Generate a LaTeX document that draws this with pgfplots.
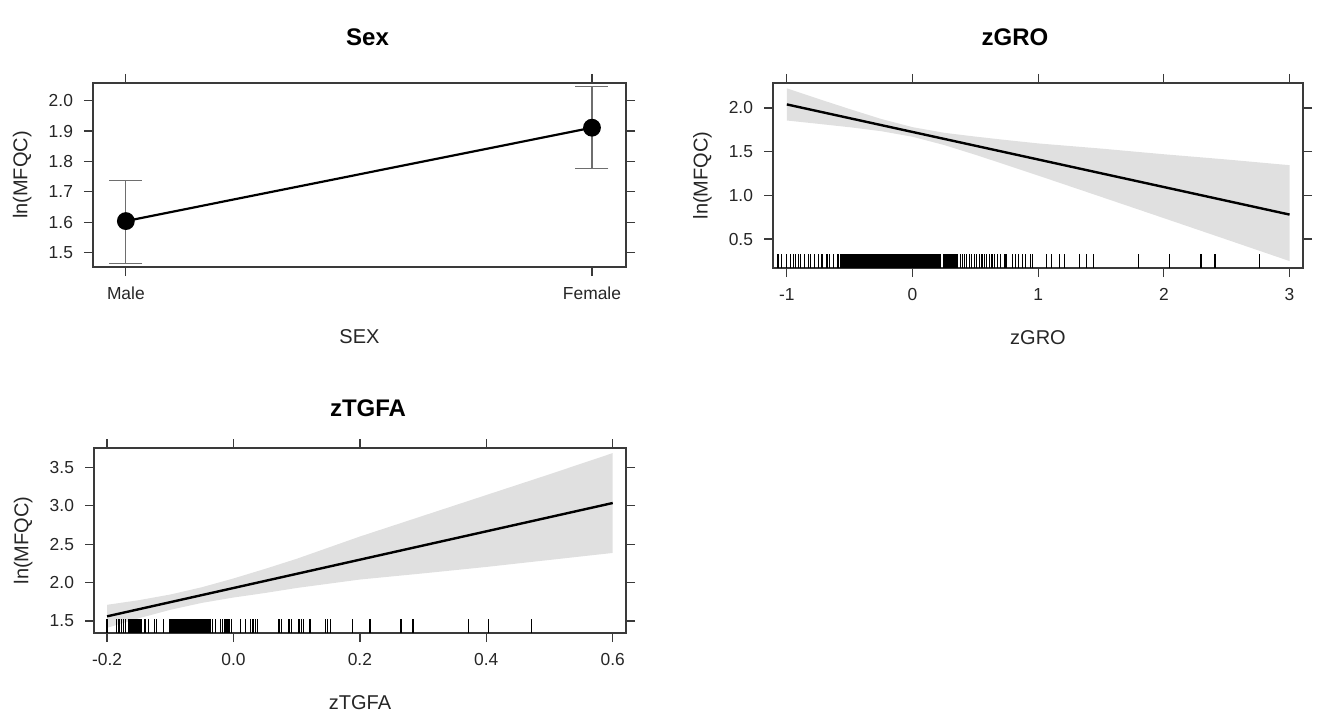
\documentclass[border=0pt]{standalone}
\usepackage{fontspec}
\setmainfont{Liberation Sans}
\usepackage{pgfplots}
\pgfplotsset{compat=1.18}

\definecolor{band}{HTML}{E0E0E0}
\definecolor{frame}{HTML}{3A3A3A}
\definecolor{ebar}{HTML}{6E6E6E}

% lattice-like panel style (1px of the reference = 0.5pt)
\pgfplotsset{
  rpanel/.style={
    scale only axis,
    clip=false,
    axis line style={line width=0.6pt, frame},
    tick align=outside, tick pos=both,
    major tick length=4.5pt,
    every tick/.style={line width=0.6pt, frame},
    ticklabel style={font=\fontsize{8.7}{10}\selectfont, text=black!85},
    xticklabel style={yshift=-2pt},
    yticklabel style={xshift=-2pt},
    label style={font=\fontsize{10}{12}\selectfont, text=black!85},
    title style={font=\bfseries\fontsize{12}{14}\selectfont,
      at={(axis description cs:0.5,1)}, anchor=center, xshift=4pt, yshift=14pt},
    xlabel style={at={(axis description cs:0.5,0)}, anchor=center, yshift=-35pt},
    ylabel style={at={(axis description cs:-0.133,0.5)}, anchor=center},
  },
  rug/.style={only marks, mark=|, mark size=3.5pt, mark options={line width=0.6pt, black}},
}

\begin{document}
\begin{tikzpicture}
\useasboundingbox (0,0) rectangle (660.5pt,356.5pt);

% ---------------- Sex ----------------
\begin{axis}[rpanel,
  at={(46.5pt,315pt)}, anchor=north west,
  width=266.5pt, height=92pt,
  xmin=-0.0705, xmax=1.073, ymin=1.453, ymax=2.058,
  xtick={0,1}, xticklabels={Male,Female},
  ytick={1.5,1.6,1.7,1.8,1.9,2.0},
  yticklabels={1.5,1.6,1.7,1.8,1.9,2.0},
  title={Sex}, title style={yshift=3pt},
  xlabel={SEX}, ylabel={ln(MFQC)},
]
\addplot[draw=none, mark=none, error bars/.cd, y dir=both, y explicit,
  error bar style={line width=0.6pt, ebar},
  error mark options={rotate=90, mark size=8.25pt, line width=0.6pt, ebar}]
  coordinates {(0,1.604) += (0,0.133) -= (0,0.139)
               (1,1.911) += (0,0.135) -= (0,0.133)};
\addplot[black, line width=1.1pt, mark=*, mark size=3.9pt]
  coordinates {(0,1.604) (1,1.911)};
\end{axis}

% ---------------- zGRO ----------------
\begin{axis}[rpanel,
  at={(386.5pt,315pt)}, anchor=north west,
  width=265pt, height=92.5pt,
  xmin=-1.11, xmax=3.107, ymin=0.169, ymax=2.285,
  xtick={-1,0,1,2,3}, xticklabels={-1,0,1,2,3},
  ytick={0.5,1.0,1.5,2.0}, yticklabels={0.5,1.0,1.5,2.0},
  title={zGRO}, title style={xshift=-15.5pt, yshift=3pt},
  xlabel={zGRO}, ylabel={ln(MFQC)},
]
% confidence band
\addplot[fill=band, draw=none] coordinates {
  (-1,2.224) (-0.75,2.104) (-0.5,1.987) (-0.25,1.874) (0,1.780) (0.25,1.716)
  (0.5,1.672) (0.75,1.632) (1,1.594) (1.5,1.535) (2,1.470) (2.5,1.410) (3,1.345)
  (3,0.248) (2.5,0.494) (2,0.739) (1.5,0.983) (1,1.226) (0.75,1.346) (0.5,1.464)
  (0.25,1.576) (0,1.670) (-0.25,1.734) (-0.5,1.779) (-0.75,1.818) (-1,1.856)
} -- cycle;
% fitted effect
\addplot[black, line width=1.2pt] coordinates {(-1,2.040) (3,0.780)};
% rug: dense stretches
\addplot[fill=black, draw=none] coordinates {(-0.575,0.169) (-0.575,0.329) (0.230,0.329) (0.230,0.169)} -- cycle;
\addplot[fill=black, draw=none] coordinates {(0.245,0.169) (0.245,0.329) (0.365,0.329) (0.365,0.169)} -- cycle;
% rug: single observations
\addplot[rug] coordinates {
  (-1.07,0.249) (-1.04,0.249) (-1.00,0.249) (-0.97,0.249) (-0.95,0.249) (-0.93,0.249)
  (-0.91,0.249) (-0.89,0.249) (-0.86,0.249) (-0.83,0.249) (-0.81,0.249) (-0.78,0.249)
  (-0.75,0.249) (-0.72,0.249) (-0.68,0.249) (-0.66,0.249) (-0.63,0.249) (-0.60,0.249)
  (-0.59,0.249)
  (0.379,0.249) (0.395,0.249) (0.413,0.249) (0.432,0.249) (0.453,0.249) (0.471,0.249)
  (0.492,0.249) (0.511,0.249) (0.532,0.249) (0.553,0.249) (0.572,0.249) (0.590,0.249)
  (0.611,0.249) (0.632,0.249) (0.651,0.249) (0.677,0.249) (0.698,0.249) (0.730,0.249)
  (0.743,0.249) (0.795,0.249) (0.817,0.249) (0.843,0.249) (0.875,0.249) (0.901,0.249)
  (0.941,0.249) (0.954,0.249) (1.066,0.249) (1.106,0.249) (1.172,0.249) (1.212,0.249)
  (1.330,0.249) (1.384,0.249) (1.437,0.249) (1.800,0.249) (2.045,0.249) (2.296,0.249)
  (2.400,0.249) (2.410,0.249) (2.760,0.249)
};
\end{axis}

% ---------------- zTGFA ----------------
\begin{axis}[rpanel,
  at={(47pt,132.5pt)}, anchor=north west,
  width=266pt, height=92.5pt,
  xmin=-0.2207, xmax=0.621, ymin=1.344, ymax=3.752,
  xtick={-0.2,0,0.2,0.4,0.6}, xticklabels={-0.2,0.0,0.2,0.4,0.6},
  ytick={1.5,2.0,2.5,3.0,3.5}, yticklabels={1.5,2.0,2.5,3.0,3.5},
  title={zTGFA}, xlabel={zTGFA}, ylabel={ln(MFQC)},
]
\addplot[fill=band, draw=none] coordinates {
  (-0.2,1.711) (-0.15,1.771) (-0.1,1.845) (-0.05,1.940) (0,2.054) (0.05,2.179)
  (0.1,2.310) (0.2,2.600) (0.3,2.870) (0.4,3.140) (0.5,3.410) (0.6,3.686)
  (0.6,2.386) (0.5,2.295) (0.4,2.204) (0.3,2.120) (0.2,2.040) (0.1,1.930)
  (0.05,1.865) (0,1.806) (-0.05,1.736) (-0.1,1.646) (-0.15,1.535) (-0.2,1.411)
} -- cycle;
\addplot[black, line width=1.2pt] coordinates {(-0.2,1.561) (0.6,3.036)};
\addplot[fill=black, draw=none] coordinates {(-0.1667,1.344) (-0.1667,1.526) (-0.144,1.526) (-0.144,1.344)} -- cycle;
\addplot[fill=black, draw=none] coordinates {(-0.1016,1.344) (-0.1016,1.526) (-0.036,1.526) (-0.036,1.344)} -- cycle;
\addplot[rug] coordinates {
  (-0.200,1.435) (-0.185,1.435) (-0.1825,1.435) (-0.180,1.435) (-0.177,1.435)
  (-0.1736,1.435) (-0.171,1.435) (-0.140,1.435) (-0.135,1.435) (-0.125,1.435)
  (-0.122,1.435) (-0.111,1.435) (-0.0333,1.435) (-0.029,1.435) (-0.021,1.435)
  (-0.0175,1.435) (-0.0143,1.435) (-0.012,1.435) (-0.009,1.435) (-0.007,1.435)
  (-0.0027,1.435) (0.0106,1.435) (0.0186,1.435) (0.0265,1.435) (0.031,1.435)
  (0.0345,1.435) (0.038,1.435) (0.072,1.435) (0.0757,1.435) (0.0878,1.435)
  (0.092,1.435) (0.1037,1.435) (0.1075,1.435) (0.1106,1.435) (0.121,1.435)
  (0.146,1.435) (0.1487,1.435) (0.153,1.435) (0.188,1.435) (0.216,1.435)
  (0.265,1.435) (0.284,1.435) (0.372,1.435) (0.403,1.435) (0.471,1.435)
};
\end{axis}
\end{tikzpicture}
\end{document}
